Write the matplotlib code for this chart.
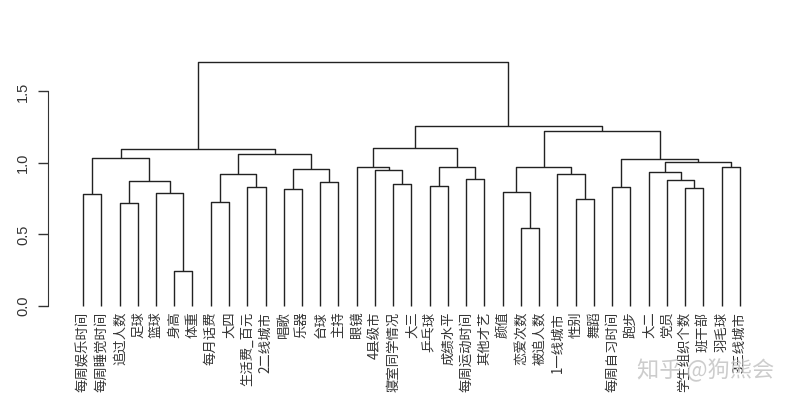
import matplotlib
matplotlib.use("Agg")
import matplotlib.pyplot as plt
import numpy as np

plt.rcParams["font.family"] = ["Noto Sans CJK SC", "DejaVu Sans"]

# leaf labels in display order
labels = ["每周娱乐时间", "每周睡觉时间", "追过人数", "足球", "篮球", "身高", "体重",
          "每月话费", "大四", "生活费_百元", "2二线城市", "唱歌", "乐器", "台球", "主持",
          "眼镜", "4县级市", "寝室同学情况", "大三", "乒乓球", "成绩水平", "每周运动时间",
          "其他才艺", "颜值", "恋爱次数", "被追人数", "1一线城市", "性别", "舞蹈",
          "每周自习时间", "跑步", "大二", "党员", "学生组织个数", "班干部", "羽毛球",
          "3三线城市"]

# merges (scipy-style): ids < n are leaves, id n+k is the k-th merge
merge_left = [5, 24, 2, 7, 27, 0, 4, 23, 11, 33, 9, 29, 19, 17, 13, 39, 32, 21,
              26, 40, 31, 16, 45, 15, 35, 44, 49, 57, 48, 42, 56, 66, 60, 62, 69, 68]
merge_right = [6, 25, 3, 8, 28, 1, 37, 38, 12, 34, 10, 30, 20, 18, 14, 43, 46, 22,
               41, 47, 53, 50, 51, 58, 36, 55, 54, 61, 64, 52, 59, 67, 63, 65, 70, 71]
merge_height = [0.247, 0.548, 0.718, 0.725, 0.748, 0.783, 0.788, 0.797, 0.816, 0.823,
                0.834, 0.834, 0.841, 0.851, 0.869, 0.876, 0.881, 0.888, 0.921, 0.921,
                0.939, 0.949, 0.956, 0.970, 0.970, 0.970, 0.974, 1.009, 1.026, 1.034,
                1.063, 1.098, 1.108, 1.226, 1.259, 1.706]

yticks = [0.0, 0.5, 1.0, 1.5]

n = len(labels)
xpos = {i: float(i) for i in range(n)}
ypos = {i: 0.0 for i in range(n)}

fig = plt.figure(figsize=(8, 4), dpi=100)
ax = fig.add_axes([48 / 800, 94 / 400, 727 / 800, 244 / 400])

line_kw = dict(color="#222222", lw=1.0, clip_on=False, solid_capstyle="butt")
for k, (a, b, h) in enumerate(zip(merge_left, merge_right, merge_height)):
    xa, xb = xpos[a], xpos[b]
    ax.plot([xa, xa, xb, xb], [ypos[a], h, h, ypos[b]], **line_kw)
    xpos[n + k] = (xa + xb) / 2
    ypos[n + k] = h

sp = 35 / 18.25
ax.set_xlim(-sp, n - 1 + sp)
ax.set_ylim(0, max(merge_height))

for i, lab in enumerate(labels):
    ax.text(i, -0.04, lab, rotation=90, ha="center", va="top",
            fontsize=9.6, color="#333333")

ax.set_xticks([])
ax.set_yticks(yticks)
ax.set_yticklabels([f"{v:.1f}" for v in yticks], rotation=90, va="center",
                   family=["Liberation Sans", "DejaVu Sans"], fontsize=10.5,
                   color="#333333")
ax.tick_params(axis="y", length=7, width=1, color="#333333", pad=6)
for s in ["top", "right", "bottom"]:
    ax.spines[s].set_visible(False)
ax.spines["left"].set_bounds(0, 1.5)
ax.spines["left"].set_color("#333333")

fig.text(0.882, 0.075, "知乎 @狗熊会", ha="center", va="center",
         fontsize=16, color="#c4c4c4", alpha=0.85)

fig.savefig("out.png", dpi=100)
